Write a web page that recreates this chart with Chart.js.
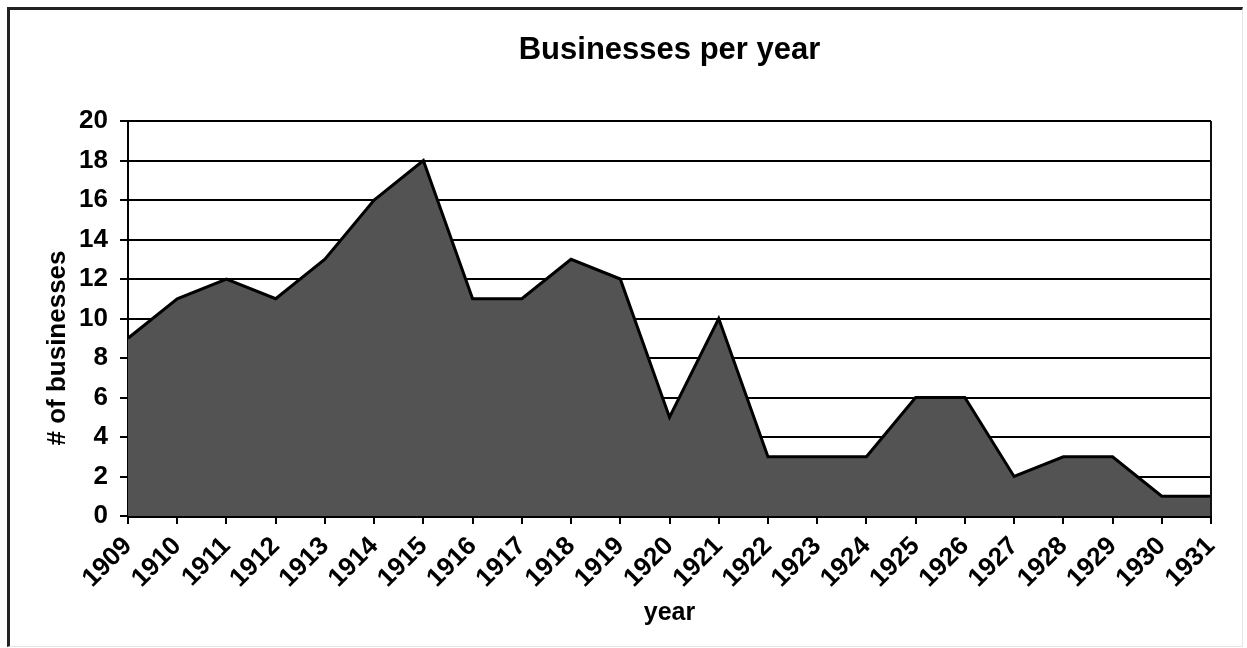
<!DOCTYPE html>
<html>
<head>
<meta charset="utf-8">
<script src="https://cdn.jsdelivr.net/npm/chart.js@4"></script>
<style>
  html, body { margin: 0; padding: 0; background: #fff; }
  #wrap { position: relative; width: 1247px; height: 648px; }
  #frame {
    position: absolute; left: 7px; top: 7px; width: 1232px; height: 636px;
    border-left: 3px solid #222; border-top: 3px solid #222;
    border-right: 1px solid #e4e4e4; border-bottom: 1px solid #e4e4e4;
    pointer-events: none;
  }
  canvas { position: absolute; left: 0; top: 0; }
</style>
</head>
<body>
<div id="wrap">
  <canvas id="chart" width="1247" height="648"></canvas>
  <div id="frame"></div>
</div>
<script>
// ── Data ──────────────────────────────────────────────────
const years      = ['1909','1910','1911','1912','1913','1914','1915','1916','1917','1918','1919','1920',
                    '1921','1922','1923','1924','1925','1926','1927','1928','1929','1930','1931'];
const businesses = [9, 11, 12, 11, 13, 16, 18, 11, 11, 13, 12, 5, 10, 3, 3, 3, 6, 6, 2, 3, 3, 1, 1];
const yTicks     = [0, 2, 4, 6, 8, 10, 12, 14, 16, 18, 20];

const FONT = '"Liberation Sans", Arial, sans-serif';

// chart title centred over plot area, y title, right edge of the plot box
const extras = {
  id: 'extras',
  afterDraw(chart) {
    const { ctx, chartArea: a } = chart;
    ctx.save();
    ctx.strokeStyle = '#111';
    ctx.lineWidth = 2;
    ctx.beginPath();
    ctx.moveTo(a.right, a.top);
    ctx.lineTo(a.right, a.bottom);
    ctx.stroke();

    ctx.fillStyle = '#000';
    ctx.textAlign = 'center';
    ctx.textBaseline = 'middle';
    ctx.font = 'bold 31px ' + FONT;
    ctx.fillText('Businesses per year', (a.left + a.right) / 2, 50);

    ctx.translate(58, 348);
    ctx.rotate(-Math.PI / 2);
    ctx.font = 'bold 26px ' + FONT;
    ctx.fillText('# of businesses', 0, 0);
    ctx.restore();
  }
};

new Chart(document.getElementById('chart'), {
  type: 'line',
  data: {
    labels: years,
    datasets: [{
      data: businesses,
      borderColor: '#000',
      backgroundColor: '#535353',
      borderWidth: 3,
      fill: 'origin',
      tension: 0,
      pointRadius: 0
    }]
  },
  options: {
    responsive: false,
    animation: false,
    layout: { padding: { left: 10, right: 36, top: 121, bottom: 20 } },
    plugins: { legend: { display: false }, tooltip: { enabled: false }, title: { display: false } },
    scales: {
      x: {
        offset: false,
        grid: { display: true, drawOnChartArea: false, drawTicks: true, tickLength: 8, color: '#000', lineWidth: 2 },
        border: { display: true, color: '#000', width: 3 },
        ticks: { color: '#000', font: { family: FONT, size: 26, weight: 'bold' }, minRotation: 45, maxRotation: 45, padding: 7, autoSkip: false },
        title: { display: true, text: 'year', color: '#000', font: { family: FONT, size: 25, weight: 'bold' }, padding: { top: 0, bottom: 0 } },
        afterFit: s => { s.height = 112; }
      },
      y: {
        min: 0, max: 20,
        afterBuildTicks: s => { s.ticks = yTicks.map(v => ({ value: v })); },
        grid: { color: '#000', lineWidth: 2, tickLength: 8, drawTicks: true },
        border: { display: true, color: '#000', width: 2 },
        ticks: { color: '#000', font: { family: FONT, size: 26, weight: 'bold' }, padding: 12 },
        title: { display: false },
        afterFit: s => { s.width = 118; }
      }
    }
  },
  plugins: [extras]
});
</script>
</body>
</html>
